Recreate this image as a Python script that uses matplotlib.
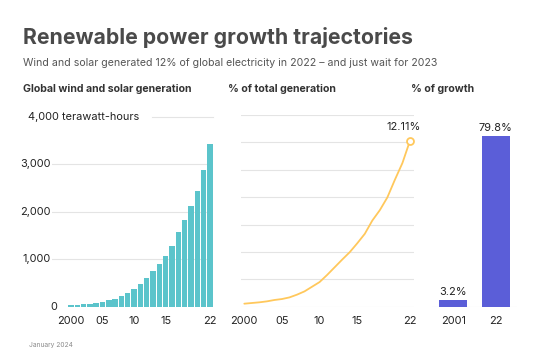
import matplotlib
matplotlib.use("Agg")
import matplotlib.pyplot as plt
import numpy as np

plt.rcParams['font.family'] = ['Inter', 'DejaVu Sans']

# ---------------- data ----------------
years = list(range(2000, 2023))
generation_twh = [28, 38, 50, 63, 88, 105, 138, 170, 218, 280, 364, 484, 608,
                  755, 902, 1070, 1282, 1566, 1828, 2110, 2430, 2868, 3420]
share_pct = [0.22, 0.27, 0.32, 0.39, 0.49, 0.56, 0.68, 0.88, 1.12, 1.46, 1.80,
             2.32, 2.88, 3.44, 3.98, 4.63, 5.32, 6.29, 7.05, 7.98, 9.27, 10.49, 12.11]
growth_labels = ["2001", "22"]
growth_pct = [3.2, 79.8]

left_ticks = [0, 1000, 2000, 3000]
left_ticklabels = ["0", "1,000", "2,000", "3,000"]
year_ticks = [2000, 2005, 2010, 2015, 2022]
year_ticklabels = ["2000", "05", "10", "15", "22"]

# ---------------- styling ----------------
W, H = 552, 350
TEAL = "#5BC4CB"
YELLOW = "#FFC85C"
PURPLE = "#5B5ED8"
GRID = "#E4E4E4"
TICK = "#222222"
FS = 7.9

fig = plt.figure(figsize=(W / 100, H / 100), dpi=100)
fig.patch.set_facecolor("white")


def fx(x):
    return x / W


def fy(y):
    return 1 - y / H


def axes_px(x0, x1, ytop, ybot):
    return fig.add_axes([fx(x0), fy(ybot), (x1 - x0) / W, (ybot - ytop) / H])


def clean(ax):
    for s in ax.spines.values():
        s.set_visible(False)
    ax.set_xticks([])
    ax.set_yticks([])
    ax.patch.set_alpha(0)


# ---------------- titles ----------------
fig.text(fx(23), fy(38), "Renewable power growth trajectories", fontsize=15.3,
         fontweight="bold", color="#4A4A4A", va="center", ha="left")
fig.text(fx(23), fy(63),
         "Wind and solar generated 12% of global electricity in 2022 \u2013 and just wait for 2023",
         fontsize=7.6, color="#555555", va="center", ha="left")
fig.text(fx(23), fy(89), "Global wind and solar generation", fontsize=7.6,
         fontweight="bold", color="#333333", va="center", ha="left")
fig.text(fx(228), fy(89), "% of total generation", fontsize=7.6,
         fontweight="bold", color="#333333", va="center", ha="left")
fig.text(fx(411), fy(89), "% of growth", fontsize=7.6,
         fontweight="bold", color="#333333", va="center", ha="left")
fig.text(fx(29), fy(345), "January 2024", fontsize=4.8, color="#8A8A8A",
         va="center", ha="left")

BOT = 306.7

# ---------------- left panel: bars ----------------
ax1 = axes_px(52, 213, 116.7, BOT)
clean(ax1)
ax1.set_xlim(1997.0, 2022.5)
ax1.set_ylim(0, 4000)
for v in left_ticks[1:]:
    ax1.axhline(v, color=GRID, lw=0.8, zorder=0)
# 4000 line only after the unit label
ax1.plot([2012.8, 2022.5], [4000, 4000], color=GRID, lw=0.8, zorder=0,
         clip_on=False)
ax1.bar(years, generation_twh, width=0.86, color=TEAL, linewidth=0, zorder=2)
for v, lab in zip(left_ticks, left_ticklabels):
    ax1.text(-0.01 if v else 0.03, v, lab, transform=ax1.get_yaxis_transform(),
             ha="right", va="center", fontsize=FS, color=TICK)
ax1.text(-0.148, 4000, "4,000 terawatt-hours", transform=ax1.get_yaxis_transform(),
         ha="left", va="center", fontsize=FS, color=TICK)
for yr, lab in zip(year_ticks, year_ticklabels):
    ax1.text(yr, -300, lab, ha="center", va="center", fontsize=FS, color=TICK,
             clip_on=False)

# ---------------- middle panel: line ----------------
ax2 = axes_px(241, 414, 115, BOT)
clean(ax2)
ax2.set_xlim(1999.56, 2022.54)
ax2.set_ylim(0, 14)
for v in range(0, 15, 2):
    ax2.axhline(v, color=GRID, lw=0.8, zorder=0)
ax2.plot(years, share_pct, color=YELLOW, lw=1.3, zorder=2, solid_capstyle="round")
ax2.plot([years[-1]], [share_pct[-1]], marker="o", ms=5, mfc="white",
         mec=YELLOW, mew=1.3, zorder=3, clip_on=False)
ax2.text(years[-1] - 0.8, share_pct[-1] + 1.05, f"{share_pct[-1]:.2f}%",
         ha="center", va="center", fontsize=FS, color=TICK)
for yr, lab in zip(year_ticks, year_ticklabels):
    ax2.text(yr, -1.05, lab, ha="center", va="center", fontsize=FS, color=TICK,
             clip_on=False)

# ---------------- right panel: growth bars ----------------
ax3 = axes_px(432, 517, 116.7, BOT)
clean(ax3)
ax3.set_xlim(-0.5, 1.5)
ax3.set_ylim(0, 88.8)
ax3.axhline(0, color=GRID, lw=0.8, zorder=0)
xs = np.arange(len(growth_pct))
ax3.bar(xs, growth_pct, width=0.66, color=PURPLE, zorder=2)
for x, v in zip(xs, growth_pct):
    ax3.text(x, v + 3.8, f"{v}%", ha="center", va="center", fontsize=FS,
             color=TICK)
for x, lab in zip(xs, growth_labels):
    ax3.text(x, -6.6, lab, ha="center", va="center", fontsize=FS, color=TICK,
             clip_on=False)

fig.savefig("out.png", dpi=100, facecolor="white")
